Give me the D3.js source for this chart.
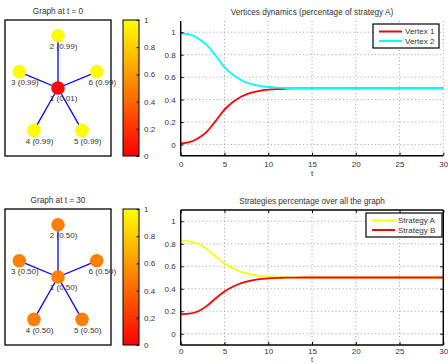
<!DOCTYPE html>
<html><head><meta charset="utf-8">
<script src="https://cdn.jsdelivr.net/npm/d3@7"></script>
<style>
body { margin: 0; background: #fff; }
svg { display: block; font-family: "Liberation Sans", Arial, sans-serif; }
.ttl { font-size: 8.2px; fill: #333; }
.tick-lbl { font-size: 8px; fill: #333; }
.node-lbl { font-size: 8px; fill: #333; }
</style></head><body>
<svg id="chart" width="448" height="364"></svg>
<script>
// graph layout (star), data units
const nodeIds = [1, 2, 3, 4, 5, 6];
const nodeX = [0, 0, -0.95, -0.59, 0.59, 0.95];
const nodeY = [0, 1, 0.31, -0.81, -0.81, 0.31];
const edges = [[1, 2], [1, 3], [1, 4], [1, 5], [1, 6]];
const valuesT0 = [0.01, 0.99, 0.99, 0.99, 0.99, 0.99];
const valuesT30 = [0.50, 0.50, 0.50, 0.50, 0.50, 0.50];

// dynamics
const tValues = [0, 1, 2, 3, 4, 5, 6, 7, 8, 9, 10, 11, 12, 13, 14, 15, 20, 25, 30];
const vertex1 = [0.01, 0.02, 0.055, 0.115, 0.21, 0.31, 0.38, 0.43, 0.46, 0.478, 0.488, 0.494, 0.497, 0.499, 0.5, 0.5, 0.5, 0.5, 0.5];
const vertex2 = [0.99, 0.98, 0.945, 0.885, 0.79, 0.69, 0.62, 0.57, 0.54, 0.522, 0.512, 0.506, 0.503, 0.501, 0.5, 0.5, 0.5, 0.5, 0.5];
const strategyA = [0.827, 0.822, 0.8, 0.752, 0.685, 0.624, 0.58, 0.547, 0.527, 0.514, 0.507, 0.503, 0.502, 0.501, 0.5, 0.5, 0.5, 0.5, 0.5];
const strategyB = [0.173, 0.178, 0.2, 0.248, 0.315, 0.376, 0.42, 0.453, 0.473, 0.486, 0.493, 0.497, 0.498, 0.499, 0.5, 0.5, 0.5, 0.5, 0.5];

const xTicks = [0, 5, 10, 15, 20, 25, 30];
const yTicks = [0, 0.2, 0.4, 0.6, 0.8, 1];
const cbTicks = [0, 0.2, 0.4, 0.6, 0.8, 1];

const svg = d3.select("#chart");
const autumn = v => d3.rgb(255, Math.round(255 * v), 0).toString();

// colorbar gradient
const defs = svg.append("defs");
const grad = defs.append("linearGradient").attr("id", "autumn")
    .attr("x1", 0).attr("y1", 1).attr("x2", 0).attr("y2", 0);
grad.append("stop").attr("offset", "0%").attr("stop-color", "#ff0000");
grad.append("stop").attr("offset", "100%").attr("stop-color", "#ffff00");

function drawGraph(top, values, title) {
    const x = d3.scaleLinear().domain([-1.3, 1.3]).range([5, 111]);
    const y = d3.scaleLinear().domain([-1.3, 1.3]).range([top + 136, top]);
    const g = svg.append("g");
    g.append("text").attr("class", "ttl").attr("x", 58).attr("y", top - 6)
        .attr("text-anchor", "middle").text(title);
    g.append("rect").attr("x", 5).attr("y", top).attr("width", 106).attr("height", 136)
        .attr("fill", "#fff").attr("stroke", "#000").attr("stroke-width", 1.3);
    const idx = id => nodeIds.indexOf(id);
    g.selectAll(".edge").data(edges).enter().append("line")
        .attr("x1", d => x(nodeX[idx(d[0])])).attr("y1", d => y(nodeY[idx(d[0])]))
        .attr("x2", d => x(nodeX[idx(d[1])])).attr("y2", d => y(nodeY[idx(d[1])]))
        .attr("stroke", "#0000ff").attr("stroke-width", 1.3);
    g.selectAll(".nd").data(nodeIds).enter().append("circle")
        .attr("cx", (d, i) => x(nodeX[i])).attr("cy", (d, i) => y(nodeY[i]))
        .attr("r", 6.8).attr("fill", (d, i) => autumn(values[i]));
    g.selectAll(".nl").data(nodeIds).enter().append("text")
        .attr("class", "node-lbl")
        .attr("x", (d, i) => x(nodeX[i] - 0.2)).attr("y", (d, i) => y(nodeY[i] - 0.2))
        .attr("dy", "0.35em")
        .text((d, i) => d + " (" + values[i].toFixed(2) + ")");

    // colorbar
    const cy = d3.scaleLinear().domain([0, 1]).range([top + 136, top]);
    g.append("rect").attr("x", 123).attr("y", top).attr("width", 16).attr("height", 136)
        .attr("fill", "url(#autumn)").attr("stroke", "#000").attr("stroke-width", 1);
    const cb = g.append("g").attr("transform", "translate(139,0)")
        .call(d3.axisRight(cy).tickValues(cbTicks).tickSize(-2.5).tickPadding(5)
            .tickFormat(d => d3.format("")(d)));
    cb.select(".domain").remove();
    cb.selectAll("text").attr("class", "tick-lbl").attr("font-size", null).attr("font-family", null);
    cb.selectAll("line").attr("stroke", "#000");
}

function drawLines(top, bottom, seriesList, names, colors, title, boxed, legendX, legendW, pad) {
    const left = 180.7, right = 443.3;
    const x = d3.scaleLinear().domain([0, 30]).range([left, right]);
    const y = d3.scaleLinear().domain([-0.1, 1.1]).range([bottom, top]);
    const g = svg.append("g");
    g.append("text").attr("class", "ttl").attr("x", (left + right) / 2).attr("y", top - 6)
        .attr("text-anchor", "middle").text(title);

    // grid
    g.selectAll(".gy").data(yTicks).enter().append("line")
        .attr("x1", left).attr("x2", right).attr("y1", d => y(d)).attr("y2", d => y(d))
        .attr("stroke", "#888").attr("stroke-width", 0.8).attr("stroke-dasharray", "1,2.6");
    g.selectAll(".gx").data(xTicks.slice(1)).enter().append("line")
        .attr("y1", top).attr("y2", bottom).attr("x1", d => x(d)).attr("x2", d => x(d))
        .attr("stroke", "#888").attr("stroke-width", 0.8).attr("stroke-dasharray", "1,2.6");

    // series
    const line = d3.line().x((d, i) => x(tValues[i])).y(d => y(d)).curve(d3.curveMonotoneX);
    seriesList.forEach((s, k) => {
        g.append("path").attr("d", line(s)).attr("fill", "none")
            .attr("stroke", colors[k]).attr("stroke-width", 1.8);
    });

    // axes
    const xa = g.append("g").attr("transform", `translate(0,${bottom})`)
        .call(d3.axisBottom(x).tickValues(xTicks).tickSize(-3).tickPadding(pad));
    const ya = g.append("g").attr("transform", `translate(${left},0)`)
        .call(d3.axisLeft(y).tickValues(yTicks).tickSize(-3).tickPadding(5)
            .tickFormat(d => d3.format("")(d)));
    [xa, ya].forEach(a => {
        a.select(".domain").attr("stroke", "#000").attr("stroke-width", 1.4)
            .attr("d", a === xa ? `M${left},0H${right}` : `M0,${top}V${bottom}`);
        a.selectAll("text").attr("class", "tick-lbl").attr("font-size", null).attr("font-family", null);
        a.selectAll("line").attr("stroke", "#000");
    });
    if (boxed) {
        const xt = g.append("g").attr("transform", `translate(0,${top})`)
            .call(d3.axisTop(x).tickValues(xTicks).tickSize(-3).tickFormat(""));
        const yr = g.append("g").attr("transform", `translate(${right},0)`)
            .call(d3.axisRight(y).tickValues(yTicks).tickSize(-3).tickFormat(""));
        [xt, yr].forEach(a => {
            a.select(".domain").attr("stroke", "#000").attr("stroke-width", 1.4)
                .attr("d", a === xt ? `M${left},0H${right}` : `M0,${top}V${bottom}`);
            a.selectAll("line").attr("stroke", "#000");
        });
    }
    const tl = g.append("text").attr("class", "tick-lbl").attr("x", (left + right) / 2)
        .attr("y", Math.min(bottom + 20, 362.3))
        .attr("text-anchor", "middle").text("t");
    if (bottom + 20 > 362.3) tl.style("font-size", "7px");

    // legend
    const ly = top + 3;
    const lg = g.append("g");
    lg.append("rect").attr("x", legendX).attr("y", ly).attr("width", legendW).attr("height", 24)
        .attr("fill", "#fff").attr("stroke", "#000").attr("stroke-width", 1.2);
    names.forEach((n, k) => {
        const yy = ly + 7.5 + k * 9.5;
        lg.append("line").attr("x1", legendX + 6).attr("x2", legendX + 29)
            .attr("y1", yy).attr("y2", yy).attr("stroke", colors[k]).attr("stroke-width", 2);
        lg.append("text").attr("class", "tick-lbl").attr("x", legendX + 32).attr("y", yy)
            .attr("dy", "0.35em").text(n);
    });
}

drawGraph(20, valuesT0, "Graph at t = 0");
drawGraph(209, valuesT30, "Graph at t = 30");
drawLines(21, 155.7, [vertex1, vertex2], ["Vertex 1", "Vertex 2"], ["#ff0000", "#00ffff"],
    "Vertices dynamics (percentage of strategy A)", false, 373, 66, 6);
drawLines(210, 345, [strategyA, strategyB], ["Strategy A", "Strategy B"], ["#ffff00", "#ff0000"],
    "Strategies percentage over all the graph", true, 366, 76, 3.6);
</script></body></html>
